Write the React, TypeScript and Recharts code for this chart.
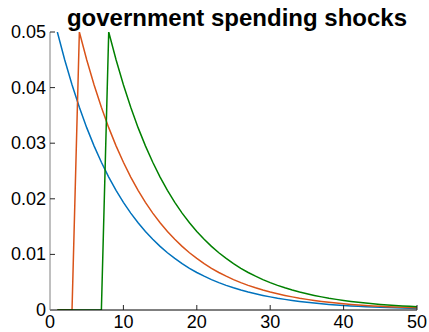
import React from "react";
import { LineChart, Line, XAxis, YAxis } from "recharts";

// periods 1..50
const periods = [
  1, 2, 3, 4, 5, 6, 7, 8, 9, 10, 11, 12, 13, 14, 15, 16, 17, 18, 19, 20,
  21, 22, 23, 24, 25, 26, 27, 28, 29, 30, 31, 32, 33, 34, 35, 36, 37, 38, 39, 40,
  41, 42, 43, 44, 45, 46, 47, 48, 49, 50,
];

// shock at t=1
const shockNow = [
  0.05, 0.045, 0.0405, 0.03645, 0.0328, 0.02952, 0.02657, 0.02391, 0.02152, 0.01937,
  0.01743, 0.01569, 0.01412, 0.01271, 0.01144, 0.01029, 0.00927, 0.00834, 0.0075, 0.00675,
  0.00608, 0.00547, 0.00492, 0.00443, 0.00399, 0.00359, 0.00323, 0.00291, 0.00262, 0.00236,
  0.00212, 0.00191, 0.00172, 0.00155, 0.00139, 0.00125, 0.00113, 0.00101, 0.00091, 0.00082,
  0.00074, 0.00067, 0.0006, 0.00054, 0.00048, 0.00044, 0.00039, 0.00035, 0.00032, 0.00029,
];

// shock anticipated, hits at t=4
const shockLag3 = [
  0, 0, 0, 0.05, 0.045, 0.0405, 0.03645, 0.0328, 0.02952, 0.02657,
  0.02391, 0.02152, 0.01937, 0.01743, 0.01569, 0.01412, 0.01271, 0.01144, 0.01029, 0.00927,
  0.00834, 0.0075, 0.00675, 0.00608, 0.00547, 0.00492, 0.00443, 0.00399, 0.00359, 0.00323,
  0.00291, 0.00262, 0.00236, 0.00212, 0.00191, 0.00172, 0.00155, 0.00139, 0.00125, 0.00113,
  0.00101, 0.00091, 0.00082, 0.00074, 0.00067, 0.0006, 0.00054, 0.00048, 0.00044, 0.00039,
];

// hits at t=8
const shockLag7 = [
  0, 0, 0, 0, 0, 0, 0, 0.05, 0.045, 0.0405,
  0.03645, 0.0328, 0.02952, 0.02657, 0.02391, 0.02152, 0.01937, 0.01743, 0.01569, 0.01412,
  0.01271, 0.01144, 0.01029, 0.00927, 0.00834, 0.0075, 0.00675, 0.00608, 0.00547, 0.00492,
  0.00443, 0.00399, 0.00359, 0.00323, 0.00291, 0.00262, 0.00236, 0.00212, 0.00191, 0.00172,
  0.00155, 0.00139, 0.00125, 0.00113, 0.00101, 0.00091, 0.00082, 0.00074, 0.00067, 0.0006,
];

const xTicks = [0, 10, 20, 30, 40, 50];
const yTicks = [0, 0.01, 0.02, 0.03, 0.04, 0.05];

const data = periods.map((t, i) => ({
  t,
  a: shockNow[i],
  b: shockLag3[i],
  c: shockLag7[i],
}));

const FONT = "Liberation Sans, Arial, sans-serif";

function YTick(props: any) {
  const { x, y, payload } = props;
  const ax = x + 4;
  return (
    <g>
      {payload.value !== 0 && <line x1={ax} x2={ax + 5} y1={y} y2={y} stroke="#262626" />}
      <text x={x} y={y} dy={6} textAnchor="end" fontSize={18} fontFamily={FONT} fill="#000">
        {payload.value}
      </text>
    </g>
  );
}

function XTick(props: any) {
  const { x, y, payload } = props;
  const ay = y - 3;
  return (
    <g>
      {payload.value !== 0 && <line x1={x} x2={x} y1={ay} y2={ay - 5} stroke="#262626" />}
      <text x={x} y={y} dy={15} textAnchor="middle" fontSize={18} fontFamily={FONT} fill="#000">
        {payload.value}
      </text>
    </g>
  );
}

export default function App() {
  return (
    <div style={{ position: "absolute", left: 0, top: 0, width: 429, height: 332, background: "#fff" }}>
      <LineChart
        width={429}
        height={332}
        data={data}
        margin={{ top: 32, right: 12, bottom: 0, left: 0 }}
      >
        <text
          x={237}
          y={26}
          textAnchor="middle"
          fontSize={24}
          fontWeight="bold"
          fontFamily={FONT}
          fill="#000"
        >
          government spending shocks
        </text>
        <XAxis
          dataKey="t"
          type="number"
          domain={[0, 50]}
          ticks={xTicks}
          interval={0}
          height={22}
          tickSize={0}
          tickMargin={3}
          tickLine={false}
          axisLine={{ stroke: "#000" }}
          tick={<XTick />}
        />
        <YAxis
          type="number"
          domain={[0, 0.05]}
          ticks={yTicks}
          interval={0}
          width={50}
          tickSize={0}
          tickMargin={4}
          tickLine={false}
          axisLine={{ stroke: "#808080" }}
          tick={<YTick />}
          allowDataOverflow
        />
        <Line dataKey="a" stroke="#0072BD" strokeWidth={1.5} dot={false} isAnimationActive={false} />
        <Line dataKey="b" stroke="#D95319" strokeWidth={1.5} dot={false} isAnimationActive={false} />
        <Line dataKey="c" stroke="#008000" strokeWidth={1.5} dot={false} isAnimationActive={false} />
      </LineChart>
    </div>
  );
}
